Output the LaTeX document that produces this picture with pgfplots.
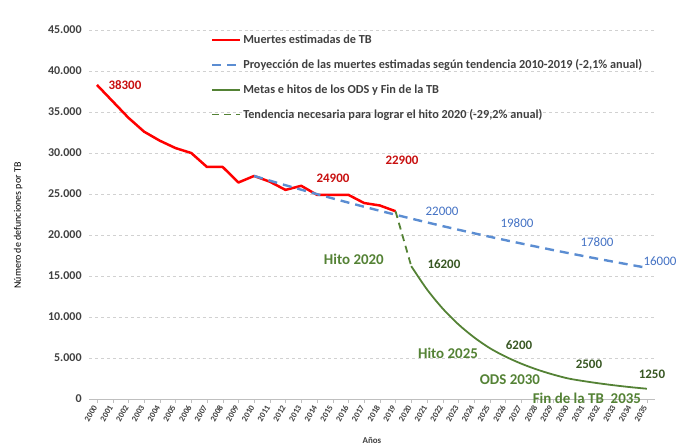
\documentclass[border=0pt]{standalone}
\usepackage{pgfplots}
\pgfplotsset{compat=1.18}
\usepackage{fontspec}
\setmainfont{Carlito}
\definecolor{tbred}{RGB}{255,0,0}
\definecolor{tbredlab}{RGB}{200,16,16}
\definecolor{tbblue}{RGB}{91,141,210}
\definecolor{tbbluelab}{RGB}{68,114,196}
\definecolor{tbgreen}{RGB}{84,130,53}
\definecolor{tbgreenlab}{RGB}{56,87,35}
\definecolor{txtgray}{RGB}{64,64,64}
\begin{document}
\begin{tikzpicture}
\path[use as bounding box] (0,0) rectangle (681bp,448bp);
\begin{axis}[
  at={(89.1bp,49bp)}, anchor=south west,
  scale only axis, width=565.7bp, height=369bp,
  xmin=1999.5, xmax=2035.5, ymin=0, ymax=45000,
  xtick={2000,...,2035},
  ytick={0,5000,...,45000},
  scaled y ticks=false,
  clip=false,
  axis x line*=bottom, axis y line*=left,
  y axis line style={draw=none},
  x axis line style={draw=black!25, line width=0.8pt},
  ytick style={draw=none},
  xtick style={draw=black!25},
  tick align=outside, major tick length=4bp,
  ymajorgrids, major grid style={draw=black!18, dashed, line width=0.6pt},
  /pgf/number format/assume math mode=true,
  yticklabel style={font=\bfseries\fontsize{12}{14}\selectfont, text=txtgray,
    /pgf/number format/fixed, /pgf/number format/1000 sep={.}},
  xticklabel style={font=\bfseries\fontsize{8.5}{10}\selectfont, text=txtgray, rotate=60, anchor=east,
    /pgf/number format/1000 sep={}},
  ylabel={Número de defunciones por TB},
  ylabel style={font=\bfseries\fontsize{9}{10}\selectfont, text=txtgray},
  every axis y label/.style={at={(axis description cs:0,0.47)}, xshift=-71bp, rotate=90, anchor=center},
  xlabel={Años},
  every axis x label/.style={at={(axis cs:2017.5,0)}, yshift=-41bp, anchor=center},
  xlabel style={font=\bfseries\fontsize{9}{10}\selectfont, text=txtgray},
  legend style={at={(0.213,0.995)}, anchor=north west, draw=none, fill=none,
    font=\bfseries\fontsize{12.3}{14}\selectfont, text=txtgray, row sep=10.5bp,
    inner sep=1bp},
  legend cell align=left,
  legend image code/.code={\draw[#1] (0bp,0bp) -- (28bp,0bp);},
]
\addplot[tbred, line width=2.5pt, line join=round] coordinates {
(2000,38300) (2001,36300) (2002,34300) (2003,32600) (2004,31500) (2005,30600)
(2006,30000) (2007,28300) (2008,28300) (2009,26400) (2010,27200) (2011,26500)
(2012,25500) (2013,26000) (2014,24900) (2015,24900) (2016,24900) (2017,23900)
(2018,23600) (2019,22900)};
\addlegendentry{Muertes estimadas de TB}
\addplot[tbblue, line width=2.4pt, dash pattern=on 9bp off 6bp] coordinates {
(2010,27200) (2011,26629) (2012,26070) (2013,25522) (2014,24986) (2015,24462)
(2016,23948) (2017,23445) (2018,22953) (2019,22471) (2020,22000) (2021,21538)
(2022,21085) (2023,20643) (2024,20209) (2025,19785) (2026,19369) (2027,18963)
(2028,18564) (2029,18174) (2030,17793) (2031,17419) (2032,17053) (2033,16695)
(2034,16344) (2035,16000)};
\addlegendentry{Proyección de las muertes estimadas según tendencia 2010-2019 (-2,1\% anual)}
\addplot[tbgreen, line width=1.8pt, smooth] coordinates {
(2020,16200) (2021,13370) (2022,11034) (2023,9106) (2024,7515) (2025,6200)
(2026,5170) (2027,4310) (2028,3594) (2029,2997) (2030,2500) (2031,2176)
(2032,1895) (2033,1650) (2034,1436) (2035,1250)};
\addlegendentry{Metas e hitos de los ODS y Fin de la TB}
\addplot[tbgreen, line width=1.8pt, dash pattern=on 7bp off 5bp] coordinates {
(2019,22900) (2020,16200)};
\addlegendentry{Tendencia necesaria para lograr el hito 2020 (-29,2\% anual)}
% data labels
\begin{scope}[every node/.style={font=\bfseries\fontsize{13}{15}\selectfont}]
\node[text=tbredlab] at (axis cs:2001.78,38290) {38300};
\node[text=tbredlab] at (axis cs:2015.02,26950) {24900};
\node[text=tbredlab] at (axis cs:2019.41,29150) {22900};
\end{scope}
\begin{scope}[every node/.style={font=\fontsize{13}{15}\selectfont, text=tbbluelab}]
\node at (axis cs:2021.96,22930) {22000};
\node at (axis cs:2026.73,21460) {19800};
\node at (axis cs:2031.82,19150) {17800};
\node at (axis cs:2035.83,16830) {16000};
\end{scope}
\begin{scope}[every node/.style={font=\bfseries\fontsize{13}{15}\selectfont, text=tbgreenlab}]
\node at (axis cs:2022.08,16460) {16200};
\node at (axis cs:2026.86,6590) {6200};
\node at (axis cs:2031.31,4270) {2500};
\node at (axis cs:2035.32,3050) {1250};
\end{scope}
\begin{scope}[every node/.style={font=\bfseries\fontsize{15}{17}\selectfont, text=tbgreen}]
\node at (axis cs:2016.35,17070) {Hito 2020};
\node at (axis cs:2022.34,5610) {Hito 2025};
\node at (axis cs:2026.28,2320) {ODS 2030};
\node at (axis cs:2031.18,120) {Fin de la TB\ \ 2035};
\end{scope}
\end{axis}
\end{tikzpicture}
\end{document}
